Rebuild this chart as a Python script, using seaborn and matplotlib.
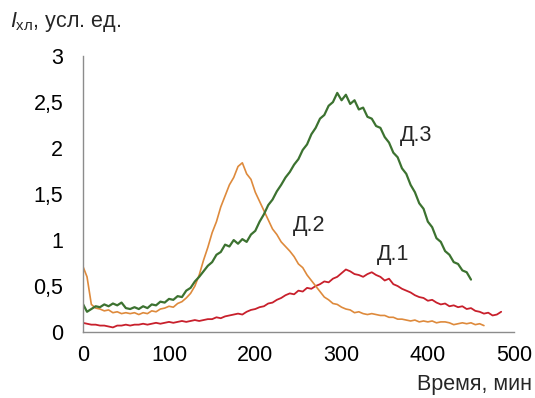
import matplotlib
matplotlib.use("Agg")
import matplotlib.pyplot as plt
import seaborn as sns
import pandas as pd
import numpy as np

# time grids, min
t1 = list(range(0, 490, 5))
t2 = list(range(0, 470, 5))
t3 = list(range(0, 455, 5))

# Д.1 (red)
d1 = [0.10, 0.09, 0.08, 0.08, 0.07, 0.07, 0.06, 0.05, 0.07, 0.07,
      0.08, 0.07, 0.08, 0.08, 0.09, 0.08, 0.09, 0.10, 0.09, 0.10,
      0.11, 0.10, 0.11, 0.12, 0.11, 0.12, 0.13, 0.12, 0.13, 0.14,
      0.14, 0.16, 0.15, 0.17, 0.18, 0.19, 0.20, 0.19, 0.22, 0.24,
      0.25, 0.27, 0.28, 0.31, 0.32, 0.35, 0.37, 0.40, 0.42, 0.41,
      0.45, 0.44, 0.48, 0.47, 0.50, 0.52, 0.55, 0.54, 0.58, 0.60,
      0.64, 0.68, 0.66, 0.63, 0.62, 0.60, 0.63, 0.65, 0.62, 0.60,
      0.56, 0.58, 0.52, 0.50, 0.47, 0.45, 0.43, 0.40, 0.38, 0.37,
      0.34, 0.35, 0.32, 0.30, 0.31, 0.28, 0.29, 0.27, 0.28, 0.25,
      0.26, 0.23, 0.22, 0.20, 0.21, 0.18, 0.19, 0.22]

# Д.2 (orange)
d2 = [0.72, 0.60, 0.30, 0.26, 0.25, 0.23, 0.24, 0.21, 0.22, 0.20,
      0.21, 0.20, 0.21, 0.19, 0.21, 0.20, 0.23, 0.22, 0.25, 0.26,
      0.28, 0.27, 0.31, 0.33, 0.37, 0.42, 0.50, 0.62, 0.78, 0.92,
      1.08, 1.20, 1.36, 1.48, 1.60, 1.68, 1.80, 1.84, 1.72, 1.66,
      1.52, 1.42, 1.32, 1.22, 1.12, 1.06, 0.98, 0.93, 0.88, 0.82,
      0.74, 0.70, 0.62, 0.56, 0.50, 0.44, 0.38, 0.35, 0.31, 0.30,
      0.27, 0.25, 0.24, 0.21, 0.22, 0.20, 0.19, 0.20, 0.19, 0.18,
      0.18, 0.16, 0.16, 0.14, 0.14, 0.13, 0.12, 0.13, 0.11, 0.12,
      0.11, 0.12, 0.10, 0.11, 0.11, 0.10, 0.08, 0.09, 0.10, 0.09,
      0.10, 0.08, 0.09, 0.07]

# Д.3 (green)
d3 = [0.31, 0.22, 0.25, 0.28, 0.27, 0.30, 0.28, 0.31, 0.29, 0.32,
      0.26, 0.25, 0.27, 0.25, 0.28, 0.26, 0.30, 0.29, 0.33, 0.32,
      0.36, 0.35, 0.39, 0.38, 0.45, 0.48, 0.55, 0.60, 0.66, 0.72,
      0.76, 0.84, 0.87, 0.95, 0.93, 1.00, 0.96, 1.01, 0.98, 1.06,
      1.10, 1.20, 1.28, 1.38, 1.44, 1.53, 1.60, 1.68, 1.74, 1.82,
      1.88, 1.98, 2.04, 2.15, 2.22, 2.32, 2.36, 2.46, 2.50, 2.60,
      2.52, 2.58, 2.48, 2.52, 2.42, 2.44, 2.34, 2.32, 2.24, 2.22,
      2.12, 2.06, 1.95, 1.90, 1.78, 1.72, 1.60, 1.52, 1.40, 1.34,
      1.20, 1.14, 1.02, 0.98, 0.88, 0.84, 0.76, 0.74, 0.67, 0.65,
      0.57]

series = ["Д.1", "Д.2", "Д.3"]
colors = {"Д.1": "#c8202c", "Д.2": "#de8a3c", "Д.3": "#3c7230"}
widths = {"Д.1": 1.3, "Д.2": 1.2, "Д.3": 1.6}

y_ticks = [0, 0.5, 1, 1.5, 2, 2.5, 3]
y_ticklabels = ["0", "0,5", "1", "1,5", "2", "2,5", "3"]
x_ticks = [0, 100, 200, 300, 400, 500]

df = pd.concat([
    pd.DataFrame({"t": t1, "I": d1, "s": "Д.1"}),
    pd.DataFrame({"t": t2, "I": d2, "s": "Д.2"}),
    pd.DataFrame({"t": t3, "I": d3, "s": "Д.3"}),
], ignore_index=True)

sns.set_style("white")
plt.rcParams["font.family"] = ["Liberation Sans", "DejaVu Sans"]
plt.rcParams["mathtext.fontset"] = "custom"
plt.rcParams["mathtext.it"] = "Liberation Sans:italic"
plt.rcParams["mathtext.rm"] = "Liberation Sans"

fig = plt.figure(figsize=(5.35, 3.98), dpi=100)
ax = fig.add_axes([0.1546, 0.1658, 0.8064, 0.6932])

for s in series:
    sns.lineplot(data=df[df["s"] == s], x="t", y="I", color=colors[s],
                 estimator=None, sort=False, linewidth=widths[s], ax=ax)

ax.set_xlim(0, 500)
ax.set_ylim(0, 3)
ax.set_xticks(x_ticks)
ax.set_yticks(y_ticks)
ax.set_yticklabels(y_ticklabels)
ax.set_xlabel("")
ax.set_ylabel("")
for side in ["top", "right"]:
    ax.spines[side].set_visible(False)
for side in ["left", "bottom"]:
    ax.spines[side].set_color("#8c8c8c")
    ax.spines[side].set_linewidth(1.0)
ax.tick_params(axis="both", direction="out", length=5, width=1,
               color="#8c8c8c", labelsize=15.5, labelcolor="black")
ax.tick_params(axis="y", pad=9)
ax.tick_params(axis="x", pad=4)

ax.text(368, 2.14, "Д.3", fontsize=15.5, va="center", ha="left")
ax.text(243, 1.16, "Д.2", fontsize=15.5, va="center", ha="left")
ax.text(341, 0.84, "Д.1", fontsize=15.5, va="center", ha="left")

fig.text(0.018, 0.945, r"$I_{\mathrm{хл}}$, усл. ед.", fontsize=15.5,
         ha="left", va="center")
fig.text(0.995, 0.008, "Время, мин", fontsize=15.5, ha="right", va="bottom")

fig.savefig("out.png", dpi=100)
